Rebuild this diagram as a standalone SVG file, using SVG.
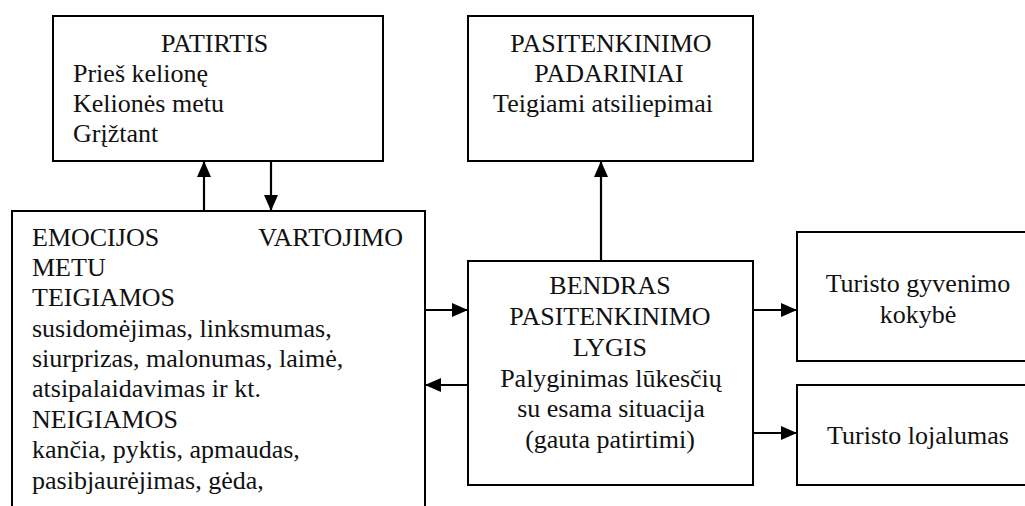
<svg xmlns="http://www.w3.org/2000/svg" width="1025" height="506" viewBox="0 0 1025 506">
<style>
.box{fill:#fff;stroke:#000;stroke-width:2}
.t{font-family:"Liberation Serif","Times New Roman",serif;font-size:26px;fill:#111}
.c{text-anchor:middle}
.con{stroke:#000;stroke-width:2.2;fill:none}
</style>
<defs>
<marker id="ah" markerUnits="userSpaceOnUse" markerWidth="16" markerHeight="14" refX="15" refY="7" orient="auto">
<path d="M0,0 L16,7 L0,14 Z" fill="#000"/>
</marker>
</defs>
<rect width="1025" height="506" fill="#fff"/>
<g id="patirtis">
<rect class="box" x="53" y="16" width="330" height="145"/>
<text class="t" x="161" y="52">PATIRTIS</text>
<text class="t" x="73" y="82">Prieš kelionę</text>
<text class="t" x="73" y="112">Kelionės metu</text>
<text class="t" x="73" y="142">Grįžtant</text>
</g>
<g id="padariniai">
<rect class="box" x="468" y="16" width="285" height="145"/>
<text class="t c" x="611" y="52">PASITENKINIMO</text>
<text class="t c" x="609" y="82">PADARINIAI</text>
<text class="t c" x="603" y="112">Teigiami atsiliepimai</text>
</g>
<g id="emocijos">
<rect class="box" x="12" y="211" width="413" height="320"/>
<text class="t" x="32" y="246">EMOCIJOS</text>
<text class="t" x="403" y="246" text-anchor="end">VARTOJIMO</text>
<text class="t" x="32" y="276">METU</text>
<text class="t" x="32" y="306">TEIGIAMOS</text>
<text class="t" x="32" y="337">susidomėjimas, linksmumas,</text>
<text class="t" x="32" y="367">siurprizas, malonumas, laimė,</text>
<text class="t" x="32" y="397">atsipalaidavimas ir kt.</text>
<text class="t" x="32" y="428">NEIGIAMOS</text>
<text class="t" x="32" y="458">kančia, pyktis, apmaudas,</text>
<text class="t" x="32" y="489">pasibjaurėjimas, gėda,</text>
</g>
<g id="bendras">
<rect class="box" x="468" y="261" width="285" height="224"/>
<text class="t c" x="610" y="294">BENDRAS</text>
<text class="t c" x="610" y="325">PASITENKINIMO</text>
<text class="t c" x="610" y="356">LYGIS</text>
<text class="t c" x="611" y="387">Palyginimas lūkesčių</text>
<text class="t c" x="611" y="417">su esama situacija</text>
<text class="t c" x="610" y="448">(gauta patirtimi)</text>
</g>
<g id="gyvenimo">
<rect class="box" x="797" y="232" width="240" height="129"/>
<text class="t c" x="918" y="292">Turisto gyvenimo</text>
<text class="t c" x="918" y="323">kokybė</text>
</g>
<g id="lojalumas">
<rect class="box" x="797" y="385" width="240" height="100"/>
<text class="t c" x="918" y="444">Turisto lojalumas</text>
</g>
<g id="connectors">
<line class="con" x1="204" y1="211" x2="204" y2="162" marker-end="url(#ah)"/>
<line class="con" x1="271" y1="161" x2="271" y2="210" marker-end="url(#ah)"/>
<line class="con" x1="601" y1="261" x2="601" y2="162" marker-end="url(#ah)"/>
<line class="con" x1="425" y1="310" x2="467" y2="310" marker-end="url(#ah)"/>
<line class="con" x1="468" y1="385" x2="426" y2="385" marker-end="url(#ah)"/>
<line class="con" x1="753" y1="310" x2="796" y2="310" marker-end="url(#ah)"/>
<line class="con" x1="753" y1="433" x2="796" y2="433" marker-end="url(#ah)"/>
</g>
</svg>
